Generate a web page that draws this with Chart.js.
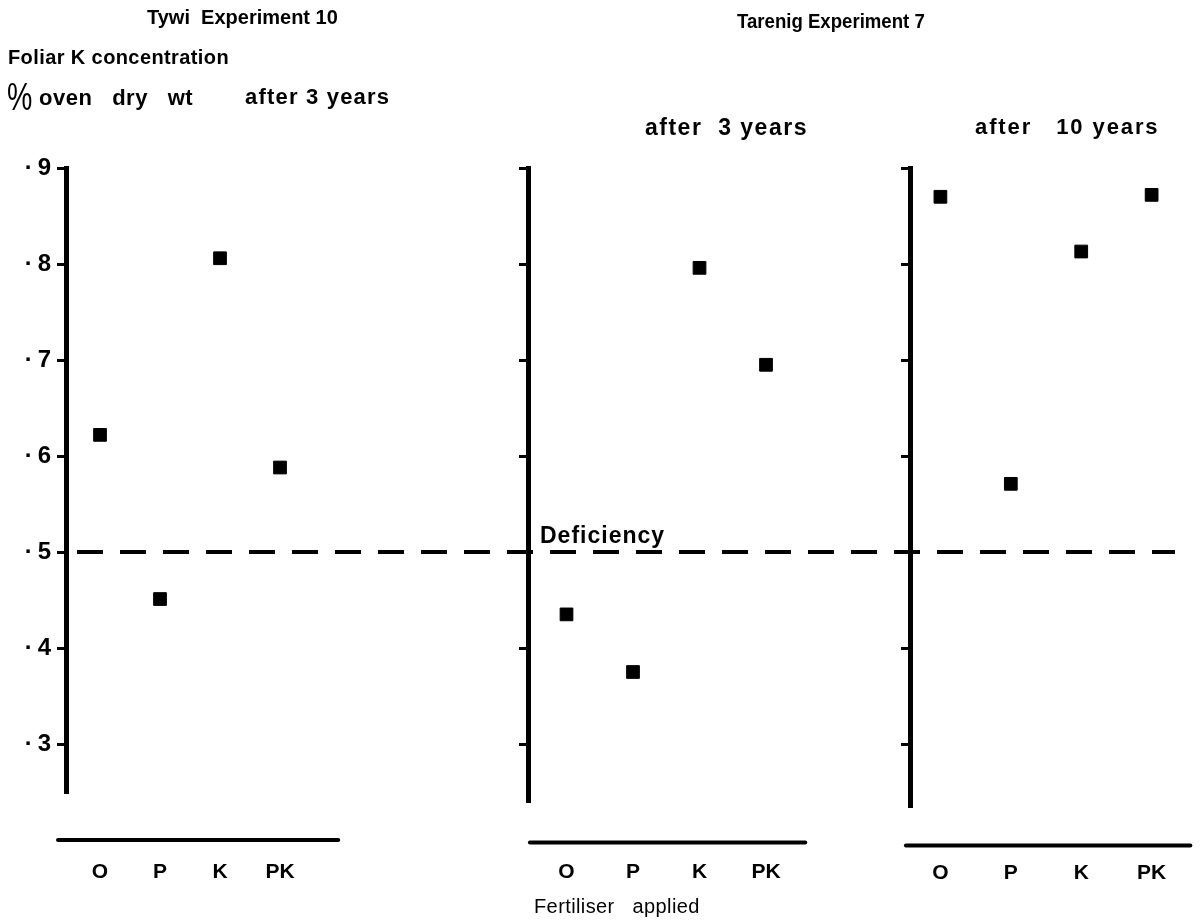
<!DOCTYPE html>
<html><head><meta charset="utf-8">
<script src="https://cdn.jsdelivr.net/npm/chart.js@4/dist/chart.umd.min.js"></script>
<style>
html,body{margin:0;padding:0;background:#fff;}
#wrap{position:relative;width:1200px;height:921px;overflow:hidden;background:#fff;}
canvas{position:absolute;left:0;top:0;}
.t{position:absolute;white-space:pre;font-family:"Liberation Sans",Arial,sans-serif;font-weight:bold;color:#000;}
</style></head><body>
<div id="wrap">
<canvas id="c1" width="1200" height="921"></canvas>
<canvas id="c2" width="1200" height="921"></canvas>
<canvas id="c3" width="1200" height="921"></canvas>
<div class="t" style="left:147px;top:7px;font-size:20px;line-height:20px;">Tywi  Experiment 10</div>
<div class="t" style="left:737px;top:11px;font-size:20px;line-height:20px;transform:scaleX(0.93);transform-origin:left top;">Tarenig Experiment 7</div>
<div class="t" style="left:8px;top:47px;font-size:20px;line-height:20px;letter-spacing:0.4px;">Foliar K concentration</div>
<div class="t" style="left:7px;top:78px;font-size:38px;line-height:38px;font-weight:normal;transform:scaleX(0.75);transform-origin:left top;">%</div>
<div class="t" style="left:39px;top:87px;font-size:22px;line-height:22px;letter-spacing:0.5px;">oven   dry   wt</div>
<div class="t" style="left:245px;top:86px;font-size:22px;line-height:22px;letter-spacing:1.2px;">after 3 years</div>
<div class="t" style="left:645px;top:116px;font-size:23px;line-height:23px;letter-spacing:1.5px;">after  3 years</div>
<div class="t" style="left:975px;top:116px;font-size:22px;line-height:22px;letter-spacing:1.9px;">after   10 years</div>
<div class="t" style="left:540px;top:524px;font-size:23px;line-height:23px;letter-spacing:1px;">Deficiency</div>
<div class="t" style="left:534px;top:896px;font-size:20px;line-height:20px;font-weight:normal;letter-spacing:0.4px;">Fertiliser   applied</div>
</div>
<script>
// ---- data ----
const TREATMENTS = ['O', 'P', 'K', 'PK'];
const TYWI_3YR = [0.622, 0.451, 0.806, 0.588];
const TARENIG_3YR = [0.435, 0.375, 0.796, 0.695];
const TARENIG_10YR = [0.870, 0.571, 0.813, 0.872];
const Y_TICKS = [0.3, 0.4, 0.5, 0.6, 0.7, 0.8, 0.9];
const Y_TICK_LABELS = ['·\u20093', '·\u20094', '·\u20095', '·\u20096', '·\u20097', '·\u20098', '·\u20099'];
const DEFICIENCY = 0.5;

// ---- layout ----
const CHART_TOP = 168;
const PX_PER_UNIT = 960;
const Y_AXIS_W = 60;
const DASH_ORIGIN = 77;
const TICK_FONT = {family: '"Liberation Sans", Arial, sans-serif', size: 21, weight: 'bold'};

const refLines = {
  id: 'refLines',
  afterDraw(chart, args, o) {
    const {ctx, chartArea, scales: {x, y}} = chart;
    const py = y.getPixelForValue(DEFICIENCY);
    const x1 = o.dashStart != null ? o.dashStart : chartArea.left;
    const x2 = o.dashEnd != null ? o.dashEnd : chartArea.right;
    ctx.save();
    ctx.strokeStyle = '#000';
    ctx.lineWidth = 4;
    ctx.setLineDash([26, 17]);
    ctx.lineDashOffset = x1 - DASH_ORIGIN;
    ctx.beginPath(); ctx.moveTo(x1, py); ctx.lineTo(x2, py); ctx.stroke();
    ctx.setLineDash([]);
    ctx.lineCap = 'round';
    const uy = chartArea.bottom + o.underlineGap;
    ctx.beginPath();
    ctx.moveTo(x.getPixelForValue(o.uFrom), uy);
    ctx.lineTo(x.getPixelForValue(o.uTo), uy);
    ctx.stroke();
    ctx.restore();
  }
};

function makePanel(id, values, cfg) {
  const bottom = CHART_TOP + (0.9 - cfg.yMin) * PX_PER_UNIT;
  return new Chart(document.getElementById(id), {
    type: 'scatter',
    data: {
      datasets: [{
        data: values.map((v, i) => ({x: i, y: v})),
        pointStyle: 'rect', pointRadius: 9, pointHoverRadius: 9,
        backgroundColor: '#000', borderColor: '#000', borderWidth: 1
      }]
    },
    options: {
      responsive: false, animation: false, events: [],
      layout: {padding: {left: cfg.axisX - Y_AXIS_W, right: 1200 - cfg.right, top: CHART_TOP, bottom: 0}},
      plugins: {
        legend: {display: false}, tooltip: {enabled: false},
        refLines: {dashStart: cfg.dashStart, dashEnd: cfg.dashEnd, underlineGap: cfg.underlineGap, uFrom: cfg.uFrom, uTo: cfg.uTo}
      },
      scales: {
        x: {
          type: 'linear', min: cfg.xMin, max: cfg.xMax,
          grid: {display: false, drawTicks: false}, border: {display: false},
          afterBuildTicks: s => { s.ticks = TREATMENTS.map((_, i) => ({value: i})); },
          afterFit: s => { s.height = 921 - bottom; s.paddingLeft = 0; s.paddingRight = 0; },
          ticks: {autoSkip: false, maxRotation: 0, padding: cfg.labelPad, color: '#000', font: TICK_FONT,
                  callback: (v, i) => TREATMENTS[i]}
        },
        y: {
          min: cfg.yMin, max: 0.9,
          afterBuildTicks: s => { s.ticks = Y_TICKS.map(v => ({value: v})); },
          afterFit: s => { s.width = Y_AXIS_W; },
          grid: {drawOnChartArea: false, drawTicks: true, tickLength: 9, color: '#000', lineWidth: 3},
          border: {display: true, color: '#000', width: 5},
          ticks: {display: cfg.showLabels, color: '#000', padding: 6,
                  font: {family: TICK_FONT.family, size: 24, weight: 'bold'},
                  callback: (v, i) => Y_TICK_LABELS[i]}
        }
      }
    },
    plugins: [refLines]
  });
}

makePanel('c1', TYWI_3YR, {axisX: 66, right: 528, xMin: -0.567, xMax: 7.133, yMin: 0.25,
  labelPad: 68, dashStart: 77, dashEnd: null, underlineGap: 48, uFrom: -0.7, uTo: 3.97, showLabels: true});
makePanel('c2', TARENIG_3YR, {axisX: 528, right: 910, xMin: -0.579, xMax: 5.165, yMin: 0.24,
  labelPad: 58, dashStart: null, dashEnd: null, underlineGap: 41, uFrom: -0.55, uTo: 3.59, showLabels: false});
makePanel('c3', TARENIG_10YR, {axisX: 910, right: 1180, xMin: -0.432, xMax: 3.403, yMin: 0.235,
  labelPad: 54, dashStart: null, dashEnd: 1175, underlineGap: 39, uFrom: -0.49, uTo: 3.55, showLabels: false});
</script>
</body></html>
